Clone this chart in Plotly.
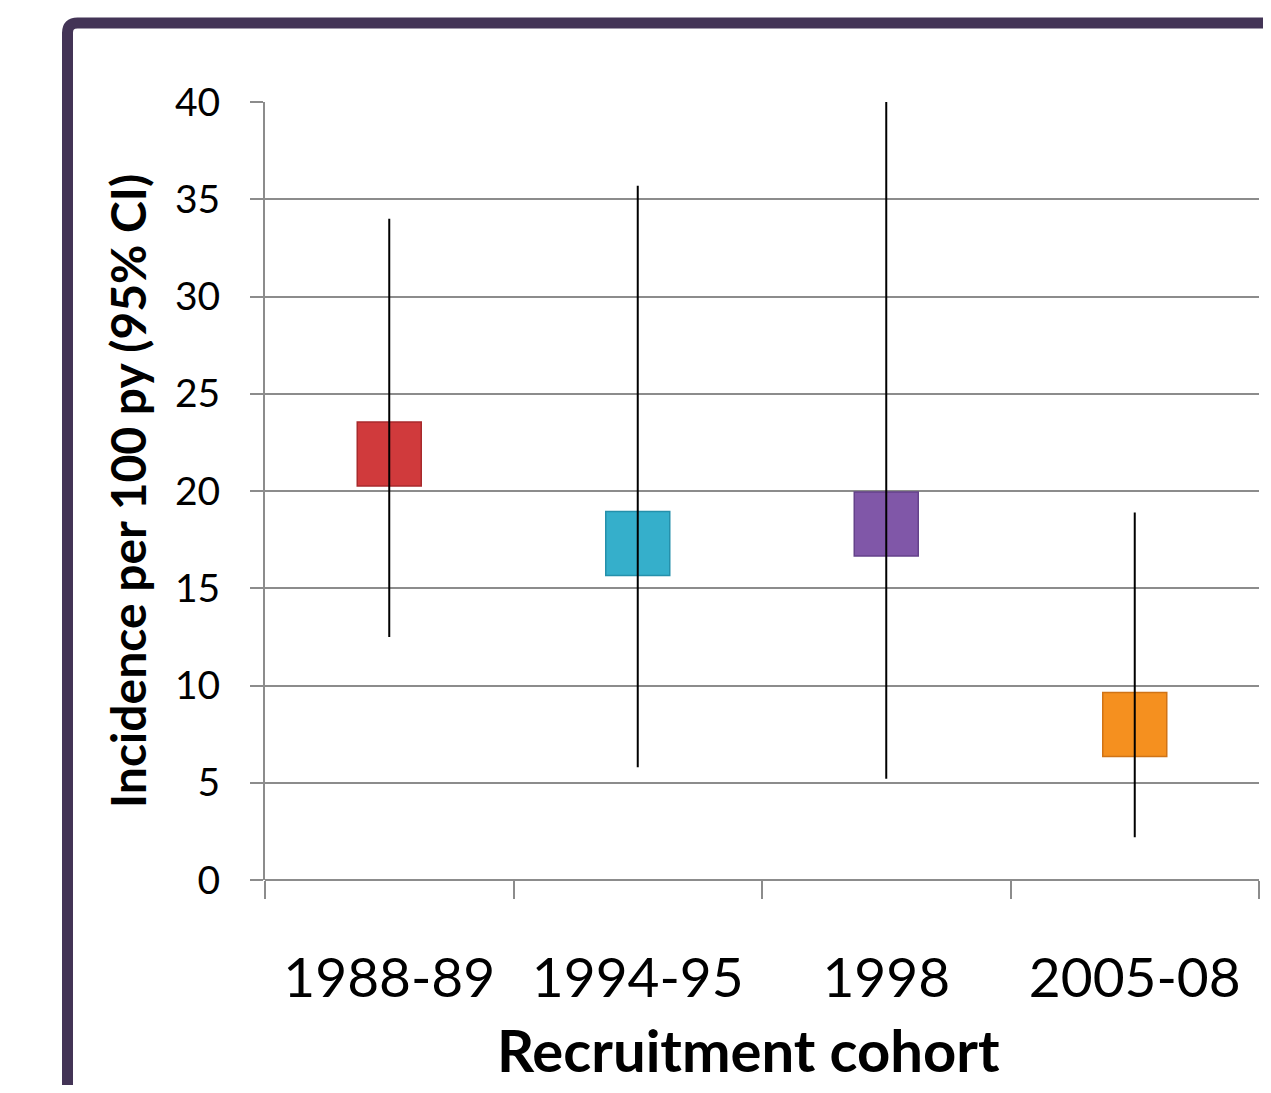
import plotly.graph_objects as go

cohorts = ["1988-89", "1994-95", "1998", "2005-08"]
incidence = [21.9, 17.3, 18.3, 8.0]
ci_low = [12.5, 5.8, 5.2, 2.2]
ci_high = [34.0, 35.7, 40.0, 18.9]
colors = ["#D03A3C", "#35AFCB", "#8057A8", "#F5901F"]
edge_colors = ["#A82A2C", "#2590AB", "#64428A", "#D07316"]
y_ticks = [0, 5, 10, 15, 20, 25, 30, 35, 40]

FONT = "Lato, 'Open Sans', sans-serif"
GRID = "#8C8C8C"

# figure sits at an 8px page offset; plot area in figure px: x 257-1251, y 94-872
W, H = 1255, 1077
L, T, PW, PH = 257, 94, 994, 778


def px(x):
    return (x - L) / PW


def py(y):
    return (T + PH - y) / PH


fig = go.Figure()

fig.add_trace(go.Scatter(
    x=cohorts, y=incidence, mode="markers",
    marker=dict(symbol="square", size=64, color=colors,
                line=dict(width=1.5, color=edge_colors)),
    showlegend=False,
))

# CI lines drawn on top of boxes
xs, ys = [], []
for c, lo, hi in zip(cohorts, ci_low, ci_high):
    xs += [c, c, None]
    ys += [lo, hi, None]
fig.add_trace(go.Scatter(
    x=xs, y=ys, mode="lines",
    line=dict(color="black", width=2),
    hoverinfo="skip", showlegend=False,
))

fig.update_layout(
    width=W, height=H,
    margin=dict(l=L, r=W - L - PW, t=T, b=H - T - PH),
    paper_bgcolor="white", plot_bgcolor="white",
    font=dict(family=FONT, color="black"),
    showlegend=False,
)

fig.update_xaxes(
    type="category", categoryorder="array", categoryarray=cohorts,
    range=[-0.5, 3.5],
    tickson="boundaries", ticks="outside", ticklen=18, tickwidth=2, tickcolor=GRID,
    showgrid=False, showline=False, zeroline=False,
    tickfont=dict(size=55, family=FONT, color="black"),
    ticklabelstandoff=61,
)
fig.update_yaxes(
    range=[0, 40], tickvals=y_ticks,
    showgrid=True, gridcolor=GRID, gridwidth=2,
    showline=True, linecolor=GRID, linewidth=2,
    zeroline=True, zerolinecolor=GRID, zerolinewidth=2,
    ticks="outside", ticklen=13, tickwidth=2, tickcolor=GRID,
    tickfont=dict(size=39, family=FONT, color="black"),
    ticklabelstandoff=22,
)

# axis titles as annotations
fig.add_annotation(
    text="<b>Incidence per 100 py (95% CI)</b>", textangle=-90,
    xref="paper", yref="paper", x=px(119), y=py(483),
    showarrow=False, xanchor="center", yanchor="middle",
    font=dict(size=48, family=FONT, color="black"),
)
fig.add_annotation(
    text="<b>Recruitment cohort</b>",
    xref="paper", yref="paper", x=px(740), y=py(1078),
    showarrow=False, xanchor="center", yanchor="bottom",
    font=dict(size=58, family=FONT, color="black"),
)

# decorative frame (left and top border with rounded corner)
xl = px(59.5)
yt = py(15)
rx = 10 / PW
ry = 10 / PH
fig.add_shape(
    type="path", xref="paper", yref="paper",
    path=f"M {xl},{-0.4} L {xl},{yt - ry} Q {xl},{yt} {xl + rx},{yt} L {1.1},{yt}",
    line=dict(color="#433456", width=11),
)

fig.write_html("out.html")
